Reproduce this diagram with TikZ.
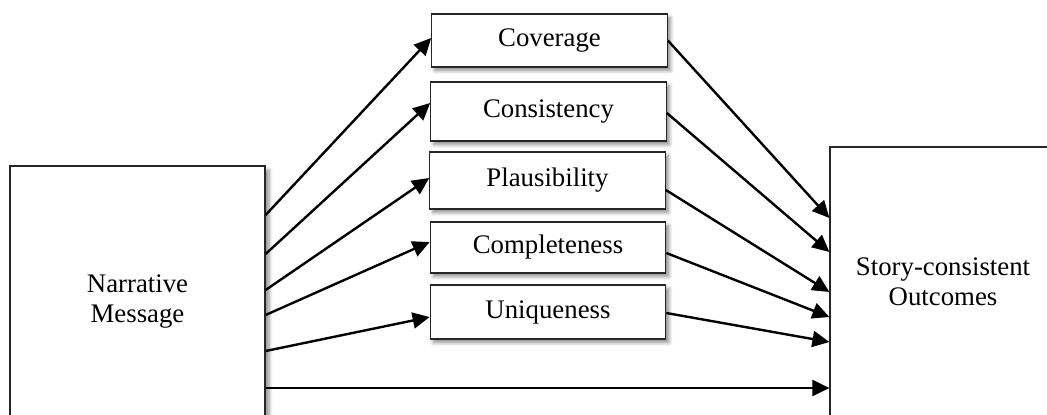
\documentclass[tikz,border=0pt]{standalone}
\usepackage{fontspec}
\setmainfont{Liberation Serif}
\usetikzlibrary{arrows.meta,shadows.blur}

\tikzset{
  factor/.style={draw=black!85, line width=0.6pt, fill=white, inner sep=0pt,
    minimum width=117.75pt, align=center,
    blur shadow={shadow xshift=1.6pt, shadow yshift=-1.8pt, shadow blur steps=6, shadow opacity=45}},
  bigbox/.style={draw=black!85, line width=0.6pt, fill=white, inner sep=0pt, align=center},
  link/.style={line width=1.2pt, -{Triangle[length=8.5pt,width=8pt]}},
  every node/.style={font=\fontsize{13.4}{15}\selectfont}
}

\begin{document}
\begin{tikzpicture}[x=0.5pt, y=-0.5pt]
  \useasboundingbox (0,0) rectangle (1047,414);
  \clip (0,0) rectangle (1047,414);

  % source and outcome boxes (both run past the lower edge)
  \node[bigbox, minimum width=127.5pt, minimum height=136pt,
    blur shadow={shadow xshift=2pt, shadow yshift=-2pt, shadow blur steps=6, shadow opacity=45}]
    (msg) at (137.5,302) {Narrative\\Message};
  \node[bigbox, minimum width=113pt, minimum height=135pt]
    (out) at (943,282) {Story-consistent\\Outcomes};

  % story-quality factors
  \node[factor, minimum height=26.5pt] (cov) at (549.5,40.5) {Coverage};
  \node[factor, minimum height=29.5pt] (con) at (548.5,111.5) {Consistency};
  \node[factor, minimum height=28.5pt] (pla) at (547.5,180.5) {Plausibility};
  \node[factor, minimum height=25.5pt] (com) at (548,247.5) {Completeness};
  \node[factor, minimum height=27pt]   (uni) at (548,312) {Uniqueness};

  % message -> factors
  \draw[link] ([yshift=43.5pt]msg.east) -- ([yshift=1.25pt]cov.west);
  \draw[link] ([yshift=24pt]msg.east)   -- ([yshift=4.25pt]con.west);
  \draw[link] ([yshift=6pt]msg.east)    -- ([yshift=1.25pt]pla.west);
  \draw[link] ([yshift=-6.5pt]msg.east) -- ([yshift=2.75pt]com.west);
  \draw[link] ([yshift=-24.5pt]msg.east) -- ([yshift=-2.5pt]uni.west);

  % factors -> outcomes
  \draw[link] (cov.east) -- ([yshift=32pt]out.west);
  \draw[link] ([yshift=-0.75pt]con.east) -- ([yshift=15pt]out.west);
  \draw[link] ([yshift=-4.75pt]pla.east) -- ([yshift=-5pt]out.west);
  \draw[link] ([yshift=-2.75pt]com.east) -- ([yshift=-17.5pt]out.west);
  \draw[link] ([yshift=-0.5pt]uni.east) -- ([yshift=-30pt]out.west);

  % direct path
  \draw[link] ([yshift=-43pt]msg.east) -- ([yshift=-53pt]out.west);
\end{tikzpicture}
\end{document}
